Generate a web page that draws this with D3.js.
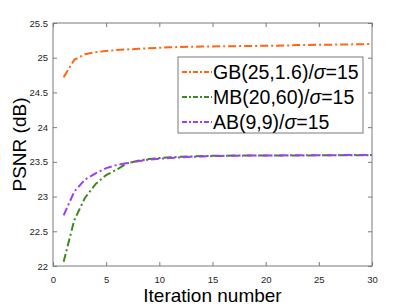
<!DOCTYPE html>
<html>
<head>
<meta charset="utf-8">
<script src="https://d3js.org/d3.v7.min.js"></script>
<style>
  body { margin: 0; background: #fff; }
  svg { display: block; font-family: "Liberation Sans", Arial, Helvetica, sans-serif; }
  .tick text { font-size: 9.5px; fill: #262626; }
</style>
</head>
<body>
<svg width="411" height="308"></svg>
<script>
// iteraties 1..30
var iterations = [1,2,3,4,5,6,7,8,9,10,11,12,13,14,15,16,17,18,19,20,21,22,23,24,25,26,27,28,29,30];

// PSNR waarden per methode
var gbValues = [24.72,24.97,25.05,25.08,25.097,25.11,25.12,25.128,25.135,25.142,
                25.15,25.155,25.158,25.16,25.162,25.164,25.166,25.168,25.17,25.172,
                25.174,25.176,25.182,25.184,25.186,25.188,25.19,25.192,25.195,25.197];
var mbValues = [22.06,22.66,22.98,23.18,23.31,23.39,23.48,23.515,23.54,23.555,
                23.565,23.572,23.578,23.583,23.587,23.589,23.59,23.59,23.591,23.591,
                23.592,23.592,23.593,23.593,23.594,23.594,23.595,23.595,23.595,23.596];
var abValues = [22.73,23.07,23.245,23.335,23.41,23.455,23.485,23.51,23.53,23.545,
                23.555,23.565,23.572,23.578,23.583,23.586,23.588,23.59,23.591,23.592,
                23.593,23.594,23.595,23.595,23.596,23.596,23.597,23.597,23.598,23.598];

var seriesNames = ["GB(25,1.6)/", "MB(20,60)/", "AB(9,9)/"];
var xTicks = [0,5,10,15,20,25,30];
var yTicks = [22,22.5,23,23.5,24,24.5,25,25.5];

var svg = d3.select("svg"),
    margin = {top: 23, right: 39, bottom: 42, left: 53},
    width = +svg.attr("width") - margin.left - margin.right,
    height = +svg.attr("height") - margin.top - margin.bottom;

var x = d3.scaleLinear().domain([0, 30]).range([0, width]),
    y = d3.scaleLinear().domain([22, 25.5]).range([height, 0]);

var g = svg.append("g")
    .attr("transform", "translate(" + margin.left + "," + margin.top + ")");

var axisColor = "#7a7a7a";

// assen, met ticks naar binnen (zoals matlab)
function styleAxis(sel) {
  sel.select(".domain").remove();
  sel.selectAll(".tick line").attr("stroke", axisColor);
}

g.append("g")
    .attr("transform", "translate(0," + height + ")")
    .call(d3.axisBottom(x).tickValues(xTicks).tickSize(-4).tickPadding(10).tickFormat(d3.format("d")))
    .call(styleAxis);

g.append("g")
    .call(d3.axisTop(x).tickValues(xTicks).tickSize(-4).tickFormat(""))
    .call(styleAxis);

g.append("g")
    .call(d3.axisLeft(y).tickValues(yTicks).tickSize(-4).tickPadding(5).tickFormat(d3.format("")))
    .call(styleAxis);

g.append("g")
    .attr("transform", "translate(" + width + ",0)")
    .call(d3.axisRight(y).tickValues(yTicks).tickSize(-4).tickFormat(""))
    .call(styleAxis);

g.selectAll(".tick text").attr("fill", "#262626").style("font-size", "9.5px");

// box om de plot
g.append("rect")
    .attr("width", width)
    .attr("height", height)
    .attr("fill", "none")
    .attr("stroke", axisColor)
    .attr("stroke-width", 1);

// lijnen
var series = [
  {name: seriesNames[0], values: gbValues, color: "#ff6410"},
  {name: seriesNames[1], values: mbValues, color: "#3a8a1f"},
  {name: seriesNames[2], values: abValues, color: "#a03cf5"}
];

var line = d3.line()
    .x(function(d, i) { return x(iterations[i]); })
    .y(function(d) { return y(d); });

g.selectAll(".serie")
  .data(series)
  .enter().append("path")
    .attr("class", "serie")
    .attr("fill", "none")
    .attr("stroke", function(d) { return d.color; })
    .attr("stroke-width", 2)
    .attr("stroke-dasharray", "8,3,2,3")
    .attr("d", function(d) { return line(d.values); });

// legenda
var legend = svg.append("g").attr("transform", "translate(178,57)");

legend.append("rect")
    .attr("width", 185)
    .attr("height", 76)
    .attr("fill", "#fff")
    .attr("stroke", axisColor)
    .attr("stroke-width", 1);

var item = legend.selectAll(".item")
  .data(series)
  .enter().append("g")
    .attr("class", "item")
    .attr("transform", function(d, i) { return "translate(0," + (15 + i * 25) + ")"; });

item.append("line")
    .attr("x1", 4).attr("x2", 34)
    .attr("stroke", function(d) { return d.color; })
    .attr("stroke-width", 2)
    .attr("stroke-dasharray", "5,2,2,2");

var label = item.append("text")
    .attr("x", 35)
    .attr("y", 6.8)
    .style("font-size", "19.5px")
    .attr("fill", "#000");
label.append("tspan").text(function(d) { return d.name; });
label.append("tspan").style("font-style", "italic").text("σ");
label.append("tspan").text("=15");

// as-titels
svg.append("text")
    .attr("x", margin.left + width / 2)
    .attr("y", 302)
    .attr("text-anchor", "middle")
    .style("font-size", "19px")
    .text("Iteration number");

svg.append("text")
    .attr("transform", "translate(25.5," + (margin.top + height / 2) + ") rotate(-90)")
    .attr("text-anchor", "middle")
    .style("font-size", "19px")
    .text("PSNR (dB)");
</script>
</body>
</html>
